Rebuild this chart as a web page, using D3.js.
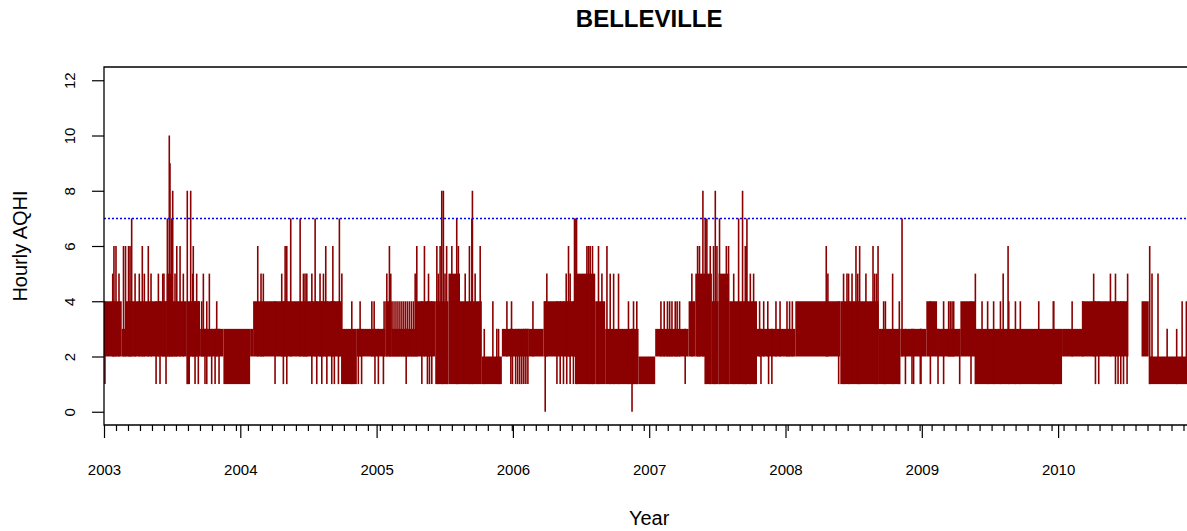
<!DOCTYPE html>
<html><head><meta charset="utf-8">
<script src="https://cdn.jsdelivr.net/npm/d3@7"></script>
<style>body{margin:0;background:#fff} text{font-family:"Liberation Sans",Arial,Helvetica,sans-serif;fill:#000}</style>
</head><body><svg id="c" width="1187" height="531"></svg>
<script>
// ---- chart text & ticks ----
const chartTitle = "BELLEVILLE";
const xTitle = "Year";
const yTitle = "Hourly AQHI";
const yTicks = [0, 2, 4, 6, 8, 10, 12];
const yearTicks = [2003, 2004, 2005, 2006, 2007, 2008, 2009, 2010];
const minorTickStep = 0.0880;   // years between minor x ticks
const threshold = 7;

// ---- dense core of the hourly series (time in decimal years, AQHI low/high) ----
const bandFrom = [2003.000,2003.130,2003.154,2003.460,2003.504,2003.607,2003.631,2003.705,2003.876,2004.072,2004.094,2004.745,2004.855,2005.063,2005.112,2005.283,2005.430,2005.527,2005.612,2005.772,2005.919,2006.114,2006.225,2006.457,2006.604,2006.677,2006.922,2007.044,2007.289,2007.338,2007.411,2007.460,2007.509,2007.587,2007.791,2008.072,2008.402,2008.684,2008.843,2009.033,2009.112,2009.283,2009.393,2010.029,2010.176,2010.612,2010.665];
const bandTo   = [2003.130,2003.154,2003.460,2003.504,2003.607,2003.631,2003.705,2003.876,2004.072,2004.094,2004.745,2004.855,2005.063,2005.112,2005.283,2005.430,2005.527,2005.612,2005.772,2005.919,2006.114,2006.225,2006.457,2006.604,2006.677,2006.922,2007.044,2007.289,2007.338,2007.411,2007.460,2007.509,2007.587,2007.791,2008.072,2008.402,2008.684,2008.843,2009.033,2009.112,2009.283,2009.393,2010.029,2010.176,2010.510,2010.665,2011.000];
const bandLow  = [2,2,2,2,2,1,2,2,1,2,2,1,2,2,2,2,1,1,1,1,2,2,2,1,1,1,1,2,2,2,1,1,1,1,2,2,1,1,2,2,2,2,1,2,2,2,1];
const bandHigh = [4,3,4,5,4,4,4,3,3,3,4,3,3,4,3,4,4,5,4,2,3,3,4,5,4,3,2,3,4,5,5,4,5,4,3,4,4,3,3,4,3,4,3,3,4,4,2];

// ---- hourly peaks above the core ----
const peakTime = [
 2003.064,2003.073,2003.088,2003.110,2003.143,2003.158,2003.180,2003.191,2003.203,2003.228,2003.259,2003.281,2003.296,2003.325,2003.345,2003.399,2003.431,2003.440,2003.465,2003.479,2003.484,2003.497,2003.504,2003.521,2003.534,2003.558,2003.582,2003.611,2003.636,2003.651,2003.655,2003.680,2003.717,2003.729,2003.754,2003.773,2003.827,
 2004.128,2004.152,2004.169,2004.304,2004.329,2004.341,2004.370,2004.439,2004.463,2004.475,2004.488,2004.525,2004.549,2004.585,2004.610,2004.627,2004.679,2004.727,2004.745,2004.818,2004.879,2004.965,2004.982,
 2005.055,2005.075,2005.094,2005.104,2005.120,2005.135,2005.150,2005.165,2005.180,2005.195,2005.210,2005.225,2005.240,2005.255,2005.270,2005.283,2005.295,2005.351,2005.381,2005.442,2005.453,2005.466,2005.478,2005.490,2005.502,2005.514,2005.552,2005.588,2005.600,2005.650,2005.681,2005.699,2005.703,2005.723,2005.760,2005.790,2005.853,2005.882,2005.895,2005.956,2005.990,
 2006.147,2006.249,2006.391,2006.408,2006.420,2006.452,2006.462,2006.467,2006.543,2006.555,2006.567,2006.584,2006.628,2006.653,2006.690,2006.714,2006.739,2006.775,2006.848,2006.885,2006.909,
 2007.086,2007.110,2007.134,2007.150,2007.167,2007.191,2007.205,2007.223,2007.313,2007.355,2007.369,2007.394,2007.411,2007.423,2007.448,2007.472,2007.485,2007.497,2007.516,2007.566,2007.582,2007.620,2007.656,2007.685,2007.705,2007.712,2007.717,2007.742,2007.766,2007.810,2007.840,2007.870,2007.930,2007.960,
 2008.011,2008.030,2008.050,2008.299,2008.311,2008.426,2008.451,2008.463,2008.488,2008.517,2008.530,2008.544,2008.590,2008.642,2008.654,2008.668,2008.679,2008.720,2008.733,2008.786,2008.835,2008.855,
 2009.160,2009.197,2009.209,2009.222,2009.234,2009.393,2009.442,2009.483,2009.527,2009.577,2009.597,2009.633,2009.638,2009.687,2009.723,2009.858,2009.965,2009.968,
 2010.103,2010.180,2010.261,2010.384,2010.421,2010.510,2010.672,2010.689,2010.733,2010.800,2010.870,2010.910,2010.941];
const peakValue = [
 5,6,6,5,6,6,6,6,7,5,5,6,5,6,5,5,5,5,7,10,9,7,8,5,6,6,5,8,8,5,6,5,4,5,4,5,4,
 6,5,5,5,6,6,7,7,5,5,5,5,7,5,5,6,6,7,5,4,4,4,4,
 4,5,6,5,4,4,4,4,4,4,4,4,4,4,4,5,6,6,5,6,5,6,8,8,5,6,6,7,6,5,6,7,8,5,6,3,4,3,3,4,4,
 4,5,5,6,5,7,7,7,6,6,6,6,6,5,6,5,5,5,4,4,4,
 4,4,4,4,4,4,4,4,5,6,6,8,7,7,6,6,8,6,7,6,6,5,7,8,6,6,7,5,5,4,4,4,4,4,
 4,4,4,6,5,5,5,5,5,6,5,6,5,6,5,5,6,4,4,5,4,7,
 4,4,4,4,4,5,4,4,4,4,5,6,4,4,4,4,4,4,
 4,4,5,5,5,5,6,5,5,3,3,4,4];

// ---- hourly lows below the core ----
const dipTime = [2003.007,2003.382,2003.411,2003.455,2003.668,2003.692,2003.741,2003.754,2003.790,2003.815,2003.844,
 2004.255,2004.316,2004.341,2004.525,2004.561,2004.598,2004.635,2004.671,2004.690,2004.720,2004.866,2004.890,2004.988,2005.013,
 2005.050,2005.217,2005.332,2005.373,2005.388,2005.405,
 2005.985,2005.997,2006.020,2006.035,2006.050,2006.065,2006.080,2006.095,2006.110,
 2006.237,2006.323,2006.347,2006.371,2006.395,2006.420,2006.444,2006.874,
 2007.264,2007.820,2007.876,2007.900,
 2008.390,2008.880,2008.928,2008.940,2008.989,2008.994,
 2009.063,2009.119,2009.160,2009.278,2009.361,
 2010.274,2010.298,2010.421,2010.440,2010.460,2010.480,2010.506];
const dipValue = [1,1,1,1,1,1,1,1,1,1,1,
 1,1,1,1,1,1,1,1,1,1,1,1,1,1,
 1,1,1,1,1,1,
 1,1,1,1,1,1,1,1,1,
 0,1,1,1,1,1,1,0,
 1,1,1,1,
 1,1,1,1,1,1,
 1,1,1,1,1,
 1,1,1,1,1,1,1];

// ---- layout ----
const svg = d3.select("#c");
const L = 104, T = 67, B = 425;
const x = d3.scaleLinear().domain([2003, 2011]).range([L, 1194.4]);
const y = d3.scaleLinear().domain([-0.48, 12.48]).range([B, T]);
const col = "#8B0000";
const FONT = "'Liberation Sans', Arial, sans-serif";

svg.append("defs").append("clipPath").attr("id", "clip")
  .append("rect").attr("x", L).attr("y", T).attr("width", x(2011) - L).attr("height", B - T);
const plot = svg.append("g").attr("clip-path", "url(#clip)");

const bands = bandFrom.map((f, i) => ({f, t: bandTo[i], lo: bandLow[i], hi: bandHigh[i]}));
function bandAt(t) {
  return bands.find(b => t >= b.f && t < b.t) || bands.reduce((a, b) => Math.abs(b.f - t) < Math.abs(a.f - t) ? b : a);
}

plot.selectAll("rect.band").data(bands).join("rect").attr("class", "band")
  .attr("x", d => x(d.f)).attr("width", d => x(d.t) - x(d.f))
  .attr("y", d => y(d.hi)).attr("height", d => y(d.lo) - y(d.hi))
  .attr("fill", col);

const peaks = peakTime.map((t, i) => ({t, v: peakValue[i], b: bandAt(t)}));
plot.selectAll("line.peak").data(peaks).join("line").attr("class", "peak")
  .attr("x1", d => x(d.t)).attr("x2", d => x(d.t))
  .attr("y1", d => y(d.b.lo)).attr("y2", d => y(d.v))
  .attr("stroke", col).attr("stroke-width", 1.6);

const dips = dipTime.map((t, i) => ({t, v: dipValue[i], b: bandAt(t)}));
plot.selectAll("line.dip").data(dips).join("line").attr("class", "dip")
  .attr("x1", d => x(d.t)).attr("x2", d => x(d.t))
  .attr("y1", d => y(d.b.hi)).attr("y2", d => y(d.v))
  .attr("stroke", col).attr("stroke-width", 1.6);

// threshold line
plot.append("line").attr("x1", L).attr("x2", x(2011)).attr("y1", y(threshold)).attr("y2", y(threshold))
  .attr("stroke", "#0000ff").attr("stroke-width", 1.5).attr("stroke-dasharray", "2,2");

// box
svg.append("path").attr("d", `M${x(2011)},${T}H${L}V${B}H${x(2011)}`)
  .attr("fill", "none").attr("stroke", "#000").attr("stroke-width", 1.3);

// y axis
const ya = svg.append("g").attr("transform", `translate(${L},0)`)
  .call(d3.axisLeft(y).tickValues(yTicks).tickSize(12).tickFormat(d3.format("d")));
ya.attr("font-size", null).attr("font-family", null);
ya.select(".domain").remove();
ya.selectAll(".tick line").attr("stroke", "#000").attr("stroke-width", 1.2);
ya.selectAll(".tick text").attr("x", null).attr("dy", null).attr("text-anchor", "middle")
  .attr("transform", "translate(-29,0) rotate(-90)").style("font-size", "15px")
  .style("font-family", FONT).attr("fill", "#000");

// x axis: minor ticks and major yearly ticks
const minorTicks = d3.range(2003 + minorTickStep, 2011, minorTickStep);
const xm = svg.append("g").attr("transform", `translate(0,${B})`)
  .call(d3.axisBottom(x).tickValues(minorTicks).tickSize(6).tickFormat(""));
xm.select(".domain").remove();
xm.selectAll(".tick line").attr("stroke", "#000").attr("stroke-width", 1.2);

const xa = svg.append("g").attr("transform", `translate(0,${B})`)
  .call(d3.axisBottom(x).tickValues(yearTicks).tickSize(13).tickFormat(d3.format("d")));
xa.attr("font-size", null).attr("font-family", null);
xa.select(".domain").remove();
xa.selectAll(".tick line").attr("stroke", "#000").attr("stroke-width", 1.2);
xa.selectAll(".tick text").attr("y", 50).attr("dy", null).style("font-size", "15px")
  .style("font-family", FONT).attr("fill", "#000");

// titles
svg.append("text").attr("x", 649.2).attr("y", 27).attr("text-anchor", "middle")
  .style("font-size", "24px").style("font-weight", "bold").text(chartTitle);
svg.append("text").attr("x", 649.2).attr("y", 525).attr("text-anchor", "middle")
  .style("font-size", "20px").text(xTitle);
svg.append("text").attr("transform", "translate(27,246) rotate(-90)").attr("text-anchor", "middle")
  .style("font-size", "20px").text(yTitle);
</script></body></html>
